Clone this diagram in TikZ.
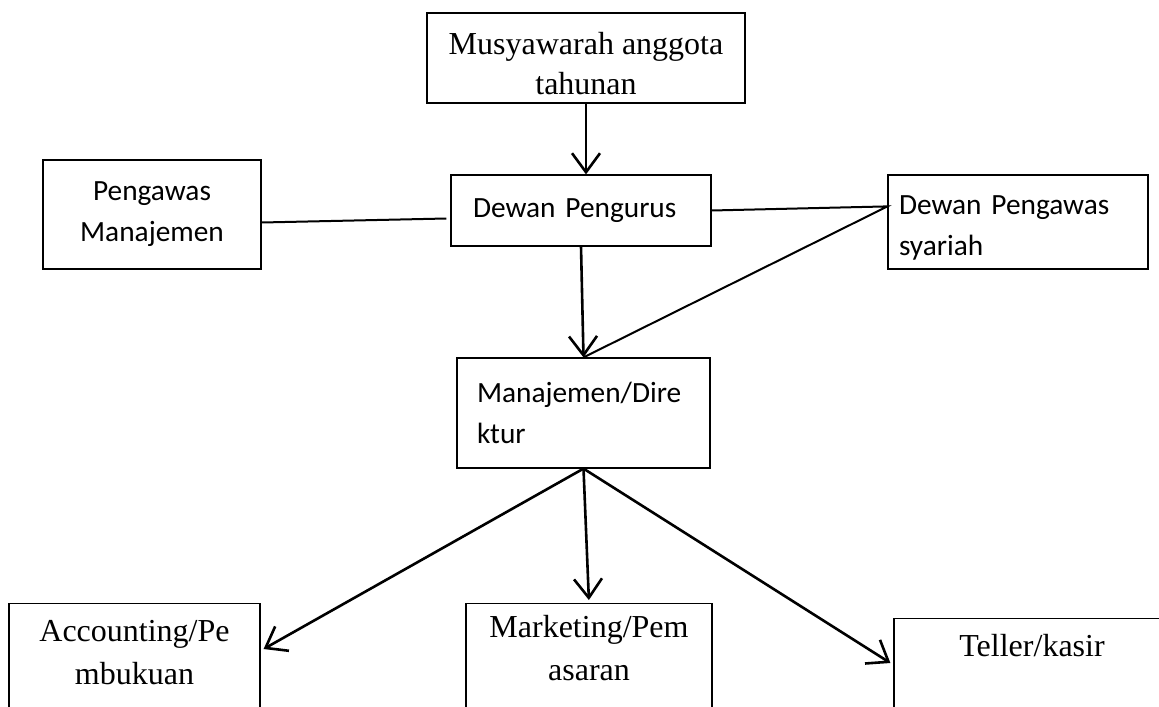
\documentclass[tikz,border=0pt]{standalone}
\usepackage{fontspec}
\setmainfont{Liberation Serif}
\newfontfamily\calibri{Carlito}
\usetikzlibrary{arrows.meta}

\begin{document}
\begin{tikzpicture}[
    x=0.5pt, y=-0.5pt,
    box/.style={draw, line width=0.6pt, inner sep=0pt, align=center},
    tnr/.style={box, font=\fontsize{16}{20}\selectfont},
    tnrbot/.style={box, anchor=north, font=\fontsize{16}{21.5}\selectfont},
    cal/.style={box, font=\calibri\fontsize{14.67}{20.5}\selectfont},
    calleft/.style={cal, align=left},
    line/.style={line width=1pt},
    arr/.style={-{Straight Barb[length=9.5pt,width=14pt]}, line width=1.3pt}
  ]
    \useasboundingbox (0,0) rectangle (1159,706);
    \clip (0,0) rectangle (1159,706);

    \node[tnr, minimum width=159pt, minimum height=45pt] (musy) at (586,58)
      {\rule{0pt}{17pt}Musyawarah anggota\\tahunan};

    \node[calleft, inner xsep=11pt, text width=108pt, minimum height=35.5pt] (dp) at (581,210.5)
      {Dewan Pengurus};
    \node[cal, minimum width=109pt, minimum height=54.5pt] (pm) at (152,214.5)
      {Pengawas\\Manajemen};
    \node[calleft, inner xsep=5.5pt, text width=119pt, minimum height=47pt] (dps) at (1018,222)
      {\rule{0pt}{15.5pt}Dewan Pengawas\\syariah};

    \node[calleft, inner xsep=10pt, text width=106.5pt, minimum height=55pt] (mgr) at (583.5,413)
      {Manajemen/Dire\\ktur};

    % bottom row runs off the page
    \node[tnrbot, minimum width=125.5pt, inner ysep=8.5pt, text depth=40pt] (acc) at (134.5,603)
      {Accounting/Pe\\mbukuan};
    \node[tnrbot, minimum width=123pt, inner ysep=6pt, text depth=40pt] (mkt) at (589,603)
      {Marketing/Pem\\asaran};
    \node[tnrbot, minimum width=138pt, inner ysep=8pt, text depth=60pt] (tel) at (1032,618)
      {Teller/kasir};

    \coordinate (dpsin) at ([yshift=-16pt]dps.north west);

    \draw[arr] (musy.south) -- (musy.south |- dp.north);
    \draw[line] ([yshift=-4pt]pm.east) -- ([shift={(-4,8)}]dp.west);
    \draw[line] (dp.east) -- (dpsin) -- (mgr.north);
    \draw[arr] (dp.south) -- (mgr.north);
    \draw[arr] (mgr.south) -- ([shift={(3,46)}]acc.north east);
    \draw[arr, shorten >=1.5pt] (mgr.south) -- (mkt.north);
    \draw[arr] (mgr.south) -- ([shift={(-3,45)}]tel.north west);
  \end{tikzpicture}
\end{document}
